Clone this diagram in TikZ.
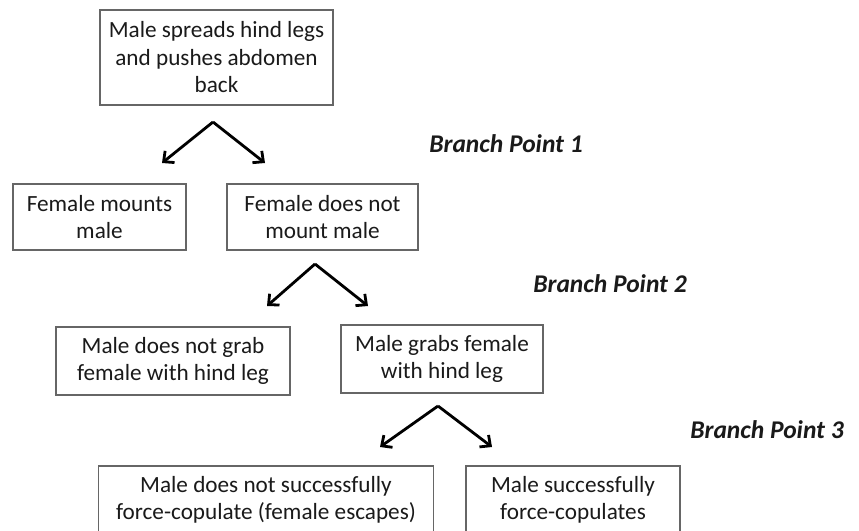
\documentclass[tikz,border=0pt]{standalone}
\usepackage{fontspec}
\setmainfont{Carlito}
\usetikzlibrary{arrows.meta}
\definecolor{boxline}{HTML}{666666}
\definecolor{ink}{HTML}{1A1A1A}
\tikzset{
  box/.style={draw=boxline, line width=1.3pt, rectangle, align=center, text=ink,
    font=\fontsize{23.2}{27.5}\selectfont, inner sep=0pt},
  arr/.style={draw=black, line width=2.8pt, -{Straight Barb[length=8pt,width=15pt,line width=2.8pt]}},
  bp/.style={text=ink, font=\fontsize{25.5}{30}\selectfont\bfseries\itshape, inner sep=0pt}
}
\begin{document}
\begin{tikzpicture}[x=1pt,y=-1pt]
\useasboundingbox (0,0) rectangle (859,530);
\clip (0,0) rectangle (859,530);
\fill[white] (0,0) rectangle (859,530);
\node[box, minimum width=233pt, minimum height=95pt] (b1) at (216.5,57.5) {Male spreads hind legs\\and pushes abdomen\\back};
\node[box, minimum width=173pt, minimum height=66pt] (b2) at (99.5,217) {Female mounts\\male};
\node[box, minimum width=191pt, minimum height=66pt] (b3) at (322.5,217) {Female does not\\mount male};
\node[box, minimum width=234pt, minimum height=68pt] (b4) at (173,361) {Male does not grab\\female with hind leg};
\node[box, minimum width=202pt, minimum height=68pt] (b5) at (442,359) {Male grabs female\\with hind leg};
\node[box, minimum width=335pt, minimum height=68pt] (b6) at (266,500) {Male does not successfully\\force-copulate (female escapes)};
\node[box, minimum width=214pt, minimum height=68pt] (b7) at (573,500) {Male successfully\\force-copulates};
\node[bp] (bp1) at (506,144) {Branch Point 1};
\node[bp] (bp2) at (610,284) {Branch Point 2};
\node[bp] (bp3) at (767,430) {Branch Point 3};
\coordinate (a1) at (213,122);
\coordinate (l1) at (162,163);
\coordinate (r1) at (265,163);
\coordinate (a2) at (315,264);
\coordinate (l2) at (267,306);
\coordinate (r2) at (368,306);
\coordinate (a3) at (438,406);
\coordinate (l3) at (380,447);
\coordinate (r3) at (492,447);
\draw[arr] (a1) -- (l1);
\draw[arr] (a1) -- (r1);
\draw[arr] (a2) -- (l2);
\draw[arr] (a2) -- (r2);
\draw[arr] (a3) -- (l3);
\draw[arr] (a3) -- (r3);
\end{tikzpicture}
\end{document}
